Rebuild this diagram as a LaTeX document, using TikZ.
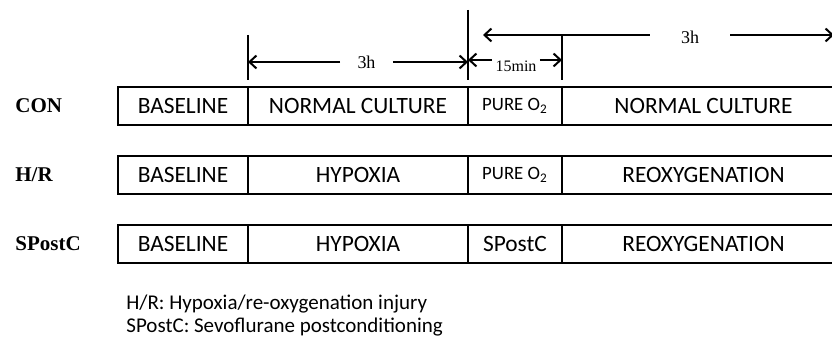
\documentclass[tikz,border=0pt]{standalone}
\usepackage{fontspec}
\setmainfont{Carlito}
\newfontfamily\timesfont{Liberation Serif}
\usetikzlibrary{arrows.meta}
\newlength{\du}
\setlength{\du}{0.5pt}
\definecolor{dialinecolor}{rgb}{0.000000, 0.000000, 0.000000}
\tikzset{
  cell/.style={draw=dialinecolor, line width=2.8\du, minimum height=38\du,
    inner sep=0pt, text=dialinecolor, font=\fontsize{11.7}{14}\selectfont},
  smallcell/.style={cell, font=\fontsize{9.4}{11}\selectfont},
  grouplabel/.style={anchor=west, inner sep=0pt, font=\timesfont\bfseries\fontsize{10.5}{12}\selectfont},
  timelabel/.style={inner ysep=0pt, font=\timesfont\fontsize{9}{11}\selectfont},
  legend/.style={anchor=west, inner sep=0pt, font=\fontsize{10.5}{12}\selectfont},
  tick/.style={draw=dialinecolor, line width=2.8\du},
  span/.style={draw=dialinecolor, line width=2\du,
    -{Straight Barb[length=3.5pt, width=6.5pt, line width=1pt]}},
}

\begin{document}
\begin{tikzpicture}
\pgftransformxscale{1.000000}
\pgftransformyscale{-1.000000}
\useasboundingbox (0\du,0\du) rectangle (832\du,341\du);
\clip (0\du,0\du) rectangle (832\du,341\du);
% group names
\node[grouplabel] (con) at (15\du,106\du){CON};
\node[grouplabel] (hr) at (15\du,175\du){H/R};
\node[grouplabel] (spc) at (15\du,244\du){SPostC};
% CON row
\node[cell, minimum width=130\du] (conbase) at (183\du,106\du){BASELINE};
\node[cell, minimum width=220\du] (connorm) at (358\du,106\du){NORMAL CULTURE};
\node[smallcell, minimum width=94\du] (conpure) at (515\du,106\du){PURE O\textsubscript{2}};
\node[cell, minimum width=283\du] (conrest) at (703.5\du,106\du){NORMAL CULTURE};
% H/R row
\node[cell, minimum width=130\du] (hrbase) at (183\du,175\du){BASELINE};
\node[cell, minimum width=220\du] (hrhyp) at (358\du,175\du){HYPOXIA};
\node[smallcell, minimum width=94\du] (hrpure) at (515\du,175\du){PURE O\textsubscript{2}};
\node[cell, minimum width=283\du] (hrreox) at (703.5\du,175\du){REOXYGENATION};
% SPostC row
\node[cell, minimum width=130\du] (spcbase) at (183\du,244\du){BASELINE};
\node[cell, minimum width=220\du] (spchyp) at (358\du,244\du){HYPOXIA};
\node[cell, minimum width=94\du] (spcpost) at (515\du,244\du){SPostC};
\node[cell, minimum width=283\du] (spcreox) at (703.5\du,244\du){REOXYGENATION};
% time marks
\coordinate (m1top) at (248\du,35\du);
\coordinate (m1bot) at (248\du,80\du);
\coordinate (m2top) at (468\du,10\du);
\coordinate (m2bot) at (468\du,80\du);
\coordinate (m3top) at (562\du,35\du);
\coordinate (m3bot) at (562\du,80\du);
\draw[tick] (m1top)--(m1bot);
\draw[tick] (m2top)--(m2bot);
\draw[tick] (m3top)--(m3bot);
% 3h hypoxia
\node[timelabel, inner xsep=17\du] (hypdur) at (366.5\du,62\du){3h};
\draw[span] (hypdur.west)--(m1bot |- hypdur);
\draw[span] (hypdur.east)--(m2bot |- hypdur);
% 15min
\coordinate (pureleft) at (468\du,60\du);
\coordinate (pureright) at (562\du,60\du);
\node[timelabel, inner xsep=3\du, font=\timesfont\fontsize{8}{10}\selectfont] (puredur) at (516\du,66\du){15min};
\draw[span] (puredur.west |- pureleft)--(pureleft);
\draw[span] (puredur.east |- pureright)--(pureright);
% 3h reoxygenation
\coordinate (reoxleft) at (483\du,35\du);
\coordinate (reoxright) at (834\du,35\du);
\node[timelabel, inner xsep=31\du] (reoxdur) at (690\du,37\du){3h};
\draw[span] (reoxdur.west |- reoxleft)--(reoxleft);
\draw[span] (reoxdur.east |- reoxright)--(reoxright);
% legend
\node[legend] (leghr) at (126\du,304\du){H/R: Hypoxia/re-oxygenation injury};
\node[legend] (legspc) at (126\du,327\du){SPostC: Sevoflurane postconditioning};
\end{tikzpicture}
\end{document}
